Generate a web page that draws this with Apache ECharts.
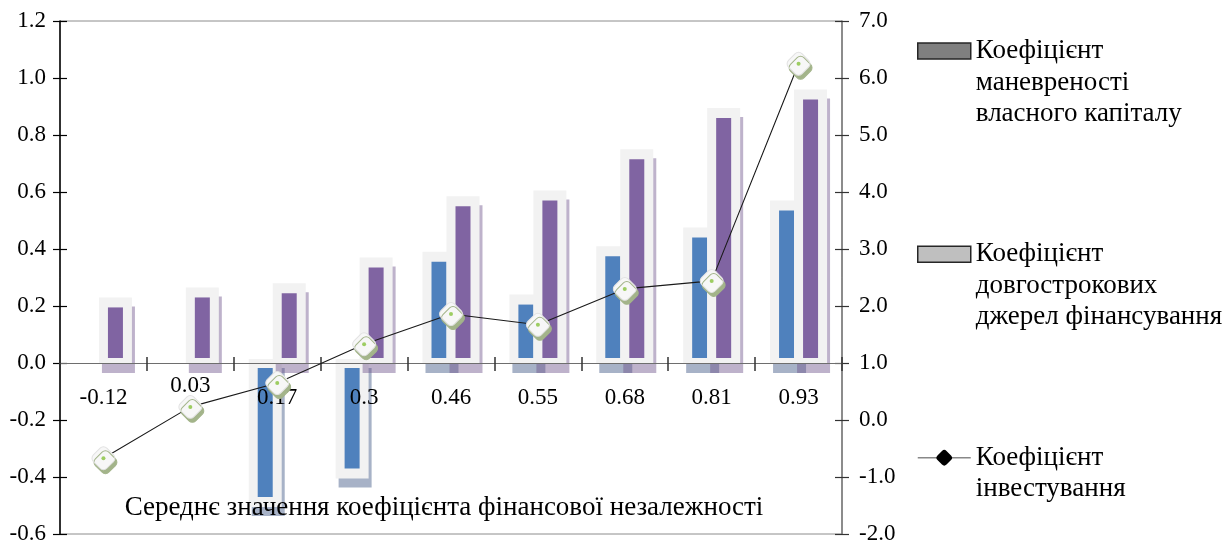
<!DOCTYPE html>
<html>
<head>
<meta charset="utf-8">
<script src="https://cdn.jsdelivr.net/npm/echarts@6/dist/echarts.min.js"></script>
<style>
  html, body { margin: 0; padding: 0; background: #fff; }
  #chart-container { width: 1232px; height: 546px; }
</style>
</head>
<body>
<div id="chart-container"></div>
<script>
const categories = ['-0.12', '0.03', '0.17', '0.3', '0.46', '0.55', '0.68', '0.81', '0.93'];
const maneuverability = [null, null, -0.47, -0.37, 0.355, 0.205, 0.375, 0.44, 0.535];
const longTermSources = [0.195, 0.23, 0.245, 0.335, 0.55, 0.57, 0.715, 0.86, 0.925];
const investment = [-0.67, 0.23, 0.65, 1.33, 1.86, 1.67, 2.3, 2.44, 6.25];
const leftAxisRange = [-0.6, 1.2, 0.2]; // min, max, step
const rightAxisRange = [-2, 7, 1];

const names = [
  'Коефіцієнт маневреності власного капіталу',
  'Коефіцієнт довгострокових джерел фінансування',
  'Коефіцієнт інвестування',
];
// leading blank lines keep the first text line level with the legend icon
const legendText = {
  [names[0]]: '\n\nКоефіцієнт\nманевреності\nвласного капіталу',
  [names[1]]: '\n\nКоефіцієнт\nдовгострокових\nджерел фінансування',
  [names[2]]: '\nКоефіцієнт\nінвестування',
};

const font = 'Liberation Serif, Times New Roman, serif';
const barWidth = 15;
const gridTop = 21;
const gridBottom = 12;
const gridHeight = 546 - gridTop - gridBottom;
// labels of the category axis sit on the zero line of the left axis
const zeroFromBottom = gridHeight * (0 - leftAxisRange[0]) / (leftAxisRange[1] - leftAxisRange[0]);

// bar with a light box round it and a soft offset shadow
function barRenderer(shift, barColor, shadowColor) {
  return function (params, api) {
    const value = api.value(1);
    if (isNaN(value)) {
      return null;
    }
    const zero = api.coord([api.value(0), 0]);
    const end = api.coord([api.value(0), value]);
    const left = zero[0] + shift - barWidth / 2;
    let barTop; let barBottom; let haloTop; let haloBottom;
    if (value >= 0) {
      barTop = end[1];
      barBottom = zero[1] - 5;
      haloTop = end[1] - 10;
      haloBottom = zero[1] + 1;
    } else {
      barTop = zero[1] + 5;
      barBottom = end[1];
      haloTop = zero[1] - 4;
      haloBottom = end[1] + 10;
    }
    const halo = { x: left - 9, y: haloTop, width: barWidth + 18, height: haloBottom - haloTop };
    return {
      type: 'group',
      children: [
        { type: 'rect', shape: { x: halo.x + 3, y: halo.y + 9, width: halo.width, height: halo.height }, style: { fill: shadowColor } },
        { type: 'rect', shape: halo, style: { fill: '#f2f2f2' } },
        { type: 'rect', shape: { x: left, y: barTop, width: barWidth, height: barBottom - barTop }, style: { fill: barColor } },
      ],
    };
  };
}

function fmt(v) {
  return (Math.abs(v) < 1e-9 ? 0 : v).toFixed(1);
}

const chartContainer = document.getElementById('chart-container');
const chart = echarts.init(chartContainer);

const xData = categories.map((c) => (c === '0.03' ? { value: c, textStyle: { verticalAlign: 'middle' } } : c));

const legendBase = {
  orient: 'vertical',
  left: 917,
  padding: 0,
  selectedMode: false,
  formatter: (name) => legendText[name],
  textStyle: { fontFamily: font, fontSize: 27, color: '#000', lineHeight: 31.5 },
};

chart.setOption({
  animation: false,
  grid: {
    left: 60,
    right: 390,
    top: gridTop,
    bottom: gridBottom,
    outerBoundsMode: 'none',
    show: true,
    borderColor: '#8c8c8c',
    borderWidth: 1,
  },
  legend: [
    {
      ...legendBase,
      top: -27.75,
      itemWidth: 53,
      itemHeight: 16,
      data: [{ name: names[0], icon: 'rect', itemStyle: { color: '#7f7f7f', borderColor: '#262626', borderWidth: 1.5 } }],
    },
    {
      ...legendBase,
      top: 175.5,
      itemWidth: 53,
      itemHeight: 16,
      data: [{ name: names[1], icon: 'rect', itemStyle: { color: '#bfbfbf', borderColor: '#262626', borderWidth: 1.5 } }],
    },
    {
      ...legendBase,
      top: 410.5,
      itemWidth: 53,
      itemHeight: 16,
      data: [{ name: names[2], itemStyle: { color: '#000', borderWidth: 0, shadowColor: 'transparent' }, lineStyle: { color: '#888', width: 1.5 } }],
    },
  ],
  xAxis: [
    {
      type: 'category',
      data: xData,
      position: 'bottom',
      offset: -zeroFromBottom,
      z: 3,
      axisLine: { onZero: false, lineStyle: { color: '#6e6e6e', width: 1.2 } },
      axisTick: { show: true, length: 8, lineStyle: { color: '#333', width: 1.5 } },
      axisLabel: { margin: 23, fontFamily: font, fontSize: 23, color: '#000', verticalAlign: 'top' },
      name: 'Середнє значення коефіцієнта фінансової незалежності',
      nameLocation: 'middle',
      nameGap: 131,
      nameTextStyle: { fontFamily: font, fontSize: 27, color: '#000', padding: [0, 14, 0, 0] },
    },
    {
      type: 'category',
      data: categories,
      position: 'top',
      z: 3,
      axisLine: { onZero: true, onZeroAxisIndex: 0, lineStyle: { color: '#6e6e6e', width: 1.2 } },
      axisTick: { show: true, length: 6, lineStyle: { color: '#333', width: 1.5 } },
      axisLabel: { show: false },
    },
  ],
  yAxis: [
    {
      type: 'value',
      min: leftAxisRange[0],
      max: leftAxisRange[1],
      interval: leftAxisRange[2],
      position: 'left',
      splitLine: { show: false },
      axisLine: { show: true, lineStyle: { color: '#000', width: 1.5 } },
      axisTick: { show: true, length: 7, lineStyle: { color: '#000', width: 1.2 } },
      axisLabel: { margin: 14, fontFamily: font, fontSize: 23, color: '#000', formatter: fmt },
    },
    {
      type: 'value',
      min: rightAxisRange[0],
      max: rightAxisRange[1],
      interval: rightAxisRange[2],
      position: 'right',
      splitLine: { show: false },
      axisLine: { show: true, lineStyle: { color: '#7a7a7a', width: 1.5 } },
      axisTick: { show: true, length: 7, lineStyle: { color: '#333', width: 1.2 } },
      axisLabel: { margin: 17, fontFamily: font, fontSize: 23, color: '#000', formatter: fmt },
    },
    {
      type: 'value',
      min: leftAxisRange[0],
      max: leftAxisRange[1],
      interval: leftAxisRange[2],
      position: 'left',
      splitLine: { show: false },
      axisLine: { show: false },
      axisTick: { show: true, inside: true, length: 7, lineStyle: { color: '#000', width: 1.2 } },
      axisLabel: { show: false },
    },
    {
      type: 'value',
      min: rightAxisRange[0],
      max: rightAxisRange[1],
      interval: rightAxisRange[2],
      position: 'right',
      splitLine: { show: false },
      axisLine: { show: false },
      axisTick: { show: true, inside: true, length: 7, lineStyle: { color: '#333', width: 1.2 } },
      axisLabel: { show: false },
    },
  ],
  series: [
    {
      name: names[0],
      type: 'custom',
      xAxisIndex: 0,
      yAxisIndex: 0,
      z: 2,
      renderItem: barRenderer(-12, '#4f81bd', 'rgba(60, 85, 130, 0.45)'),
      data: maneuverability.map((v, i) => [i, v === null ? '-' : v]),
    },
    {
      name: names[1],
      type: 'custom',
      xAxisIndex: 0,
      yAxisIndex: 0,
      z: 2,
      renderItem: barRenderer(12, '#8064a2', 'rgba(110, 85, 140, 0.45)'),
      data: longTermSources.map((v, i) => [i, v]),
    },
    {
      name: names[2],
      type: 'line',
      xAxisIndex: 0,
      yAxisIndex: 1,
      z: 4,
      data: investment,
      symbol: 'roundRect',
      symbolSize: 19,
      symbolRotate: 45,
      lineStyle: { color: '#1a1a1a', width: 1.1 },
      itemStyle: {
        color: '#f7f7f7',
        borderColor: '#e2e2e2',
        borderWidth: 1,
        shadowColor: '#a3b48a',
        shadowBlur: 0,
        shadowOffsetX: 2,
        shadowOffsetY: 4,
      },
    },
    {
      name: 'centre',
      type: 'scatter',
      xAxisIndex: 0,
      yAxisIndex: 1,
      z: 5,
      silent: true,
      data: investment,
      symbolSize: 4,
      itemStyle: { color: '#86c23c' },
    },
  ],
});
</script>
</body>
</html>
